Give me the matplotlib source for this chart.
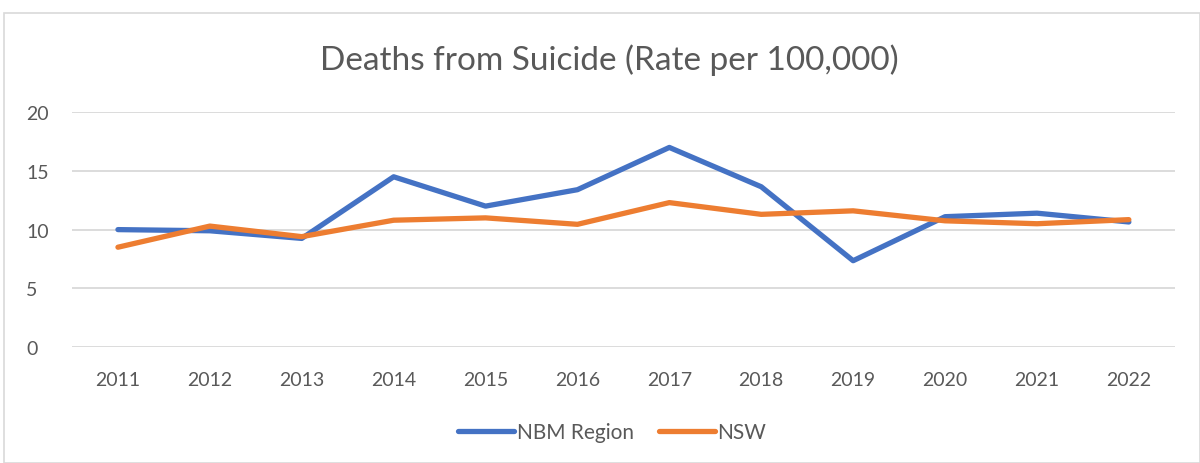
import matplotlib.pyplot as plt
from matplotlib.patches import Rectangle

years = ["2011", "2012", "2013", "2014", "2015", "2016",
         "2017", "2018", "2019", "2020", "2021", "2022"]
nbm = [10.0, 9.9, 9.25, 14.5, 12.0, 13.4, 17.0, 13.65, 7.35, 11.1, 11.4, 10.65]
nsw = [8.5, 10.3, 9.4, 10.8, 11.0, 10.45, 12.3, 11.3, 11.6, 10.75, 10.5, 10.85]
yticks = [0, 5, 10, 15, 20]

plt.rcParams['font.family'] = ['Lato', 'DejaVu Sans']
txt = "#595959"

fig = plt.figure(figsize=(12, 4.64), dpi=100)
ax = fig.add_axes([0.06, 0.25, 0.919, 0.506])

x = list(range(len(years)))
ax.plot(x, nbm, color="#4472C4", lw=3.8, solid_capstyle="round", solid_joinstyle="round", label="NBM Region")
ax.plot(x, nsw, color="#ED7D31", lw=3.8, solid_capstyle="round", solid_joinstyle="round", label="NSW")

ax.set_xlim(-0.5, len(years) - 0.5)
ax.set_ylim(0, 20)
ax.set_yticks(yticks)
ax.set_xticks(x)
ax.set_xticklabels(years)
ax.grid(axis="y", color="#D9D9D9", lw=1.3)
ax.set_axisbelow(True)
for s in ax.spines.values():
    s.set_visible(False)
ax.tick_params(length=0, labelsize=14, colors=txt, pad=17)
ax.tick_params(axis="y", pad=33)
for lbl in ax.get_yticklabels():
    lbl.set_horizontalalignment("left")

fig.text(0.508, 0.87, "Deaths from Suicide (Rate per 100,000)", ha="center", va="center",
         fontsize=24, color=txt)

leg = fig.legend(loc="center", bbox_to_anchor=(0.51, 0.067), ncol=2, frameon=False,
                 fontsize=15, handlelength=2.7, handletextpad=0.1, columnspacing=1.2)
for t in leg.get_texts():
    t.set_color(txt)

fig.patches.append(Rectangle((0.003, 0.0), 0.997, 0.97, transform=fig.transFigure,
                             fill=False, edgecolor="#D9D9D9", lw=1.2))

fig.savefig("out.png", dpi=100)
